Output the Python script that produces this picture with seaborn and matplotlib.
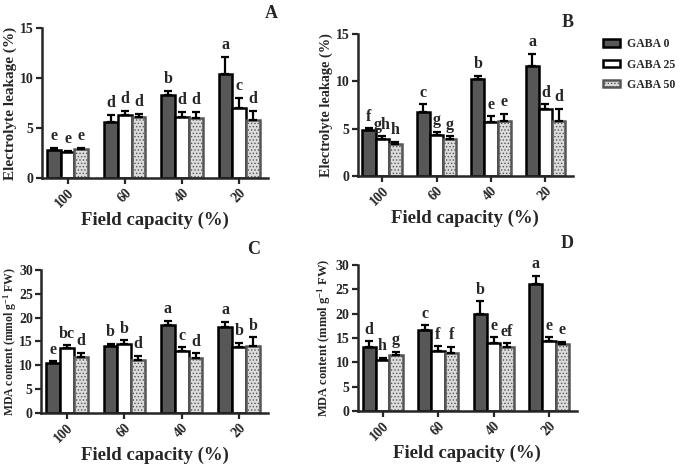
import pandas as pd
import numpy as np
import matplotlib
matplotlib.use("Agg")
import matplotlib.pyplot as plt
import seaborn as sns

capacity = ['100', '60', '40', '20']
treatments = ['GABA 0', 'GABA 25', 'GABA 50']

# panel A - electrolyte leakage
el_a = [[2.8, 5.6, 8.3, 10.4], [2.6, 6.3, 6.1, 7.0], [2.9, 6.1, 6.0, 5.8]]
el_a_err = [[0.2, 0.7, 0.4, 1.7], [0.1, 0.4, 0.5, 1.0], [0.1, 0.3, 0.6, 0.9]]
el_a_let = [['e', 'd', 'b', 'a'], ['e', 'd', 'd', 'c'], ['e', 'd', 'd', 'd']]

# panel B - electrolyte leakage
el_b = [[4.9, 6.8, 10.3, 11.6], [3.9, 4.3, 5.7, 7.1], [3.4, 3.9, 5.8, 5.8]]
el_b_err = [[0.15, 0.8, 0.3, 1.3], [0.3, 0.4, 0.6, 0.5], [0.2, 0.3, 0.8, 1.3]]
el_b_let = [['f', 'c', 'b', 'a'], ['gh', 'g', 'e', 'd'], ['h', 'g', 'e', 'd']]

# panel C - MDA
mda_c = [[10.5, 14.1, 18.5, 18.1], [13.6, 14.4, 13.0, 13.9], [11.7, 11.2, 11.6, 14.1]]
mda_c_err = [[0.3, 0.4, 0.8, 1.0], [0.6, 0.8, 0.8, 0.8], [0.9, 0.8, 0.9, 1.8]]
mda_c_let = [['e', 'b', 'a', 'a'], ['bc', 'b', 'c', 'b'], ['d', 'd', 'd', 'b']]

# panel D - MDA
mda_d = [[13.1, 16.6, 19.9, 26.1], [10.4, 12.3, 13.9, 14.3], [11.4, 11.9, 13.1, 13.8]]
mda_d_err = [[1.2, 1.0, 2.6, 1.6], [0.5, 1.0, 1.2, 0.8], [0.7, 1.3, 0.8, 0.4]]
mda_d_let = [['d', 'c', 'b', 'a'], ['h', 'f', 'e', 'e'], ['g', 'f', 'ef', 'e']]

sns.set_style("ticks")
plt.rcParams['font.family'] = ['Liberation Serif', 'DejaVu Serif']
plt.rcParams['font.weight'] = 'bold'
plt.rcParams['mathtext.fontset'] = 'custom'
plt.rcParams['mathtext.rm'] = 'Liberation Serif:bold'
plt.rcParams['mathtext.bf'] = 'Liberation Serif:bold'
plt.rcParams['mathtext.default'] = 'bf'
plt.rcParams['hatch.linewidth'] = 0.6

face = ['#575757', 'white', '#dcdcdc']
edge = ['black', 'black', '#555555']
hatch = [None, None, '.....']

fig = plt.figure(figsize=(6.85, 4.68), dpi=100)


def panel(rect, vals, errs, lets, ylabel, ymax, ylsize, ylx, letter, lpos):
    ax = fig.add_axes(rect)
    df = pd.DataFrame({
        'cap': capacity * 3,
        'trt': np.repeat(treatments, 4),
        'val': np.ravel(vals),
    })
    sns.barplot(data=df, x='cap', y='val', hue='trt', order=capacity,
                hue_order=treatments, errorbar=None, width=0.72,
                palette=face, ax=ax, legend=False)
    bars = list(ax.containers)
    for i, cont in enumerate(bars):
        xs = []
        for p in cont.patches:
            p.set_edgecolor(edge[i])
            p.set_linewidth(1.8)
            if hatch[i]:
                p.set_hatch(hatch[i])
            xs.append(p.get_x() + p.get_width() / 2)
        v = np.array(vals[i])
        e = np.array(errs[i])
        ax.errorbar(xs, v, yerr=[np.zeros_like(e), e], fmt='none',
                    ecolor='black', elinewidth=1.6, capsize=3, capthick=1.6,
                    zorder=3)
        for x, y, t in zip(xs, v + e, lets[i]):
            ax.text(x, y + ymax * 0.025, t, ha='center', va='bottom',
                    fontsize=11.5, fontweight='bold')
    ax.set_ylim(0, ymax)
    ax.set_yticks(np.arange(0, ymax + 0.1, 5))
    ax.set_xlim(-0.45, 3.5)
    ax.set_xlabel('Field capacity (%)', fontsize=13.5, fontweight='bold',
                  labelpad=1)
    ax.set_ylabel(ylabel, fontsize=ylsize, fontweight='bold')
    ax.yaxis.set_label_coords(ylx, 0.5)
    ax.tick_params(axis='both', width=1.6, length=4, labelsize=10, pad=2)
    plt.setp(ax.get_xticklabels(), rotation=45, ha='right',
             rotation_mode='anchor', fontweight='bold')
    plt.setp(ax.get_yticklabels(), fontweight='bold')
    for s in ['left', 'bottom']:
        ax.spines[s].set_linewidth(1.8)
    sns.despine(ax=ax)
    fig.text(lpos[0], lpos[1], letter, fontsize=13, fontweight='bold',
             ha='center', va='center')
    return ax


mda_label = 'MDA content (mmol g$^{-1}$ FW)'

panel([0.061, 0.620, 0.330, 0.320], el_a, el_a_err, el_a_let,
      'Electrolyte leakage (%)', 15, 11, -0.11, 'A', (0.396, 0.972))
panel([0.522, 0.624, 0.314, 0.303], el_b, el_b_err, el_b_let,
      'Electrolyte leakage (%)', 15, 10.3, -0.116, 'B', (0.828, 0.951))
panel([0.060, 0.1175, 0.331, 0.306], mda_c, mda_c_err, mda_c_let,
      mda_label, 30, 8.5, -0.098, 'C', (0.370, 0.466))
panel([0.522, 0.122, 0.320, 0.312], mda_d, mda_d_err, mda_d_let,
      mda_label, 30, 9, -0.114, 'D', (0.828, 0.480))

handles = [plt.Rectangle((0, 0), 1, 1, facecolor=face[i], edgecolor=edge[i],
                         linewidth=1.8, hatch=hatch[i]) for i in range(3)]
fig.legend(handles, treatments, loc='upper left', bbox_to_anchor=(0.880, 0.918),
           frameon=False, handlelength=1.45, handleheight=0.6,
           handletextpad=0.6, borderpad=0, borderaxespad=0, labelspacing=0.7,
           prop={'weight': 'bold', 'size': 8.5})

fig.savefig('out.png', dpi=100)
